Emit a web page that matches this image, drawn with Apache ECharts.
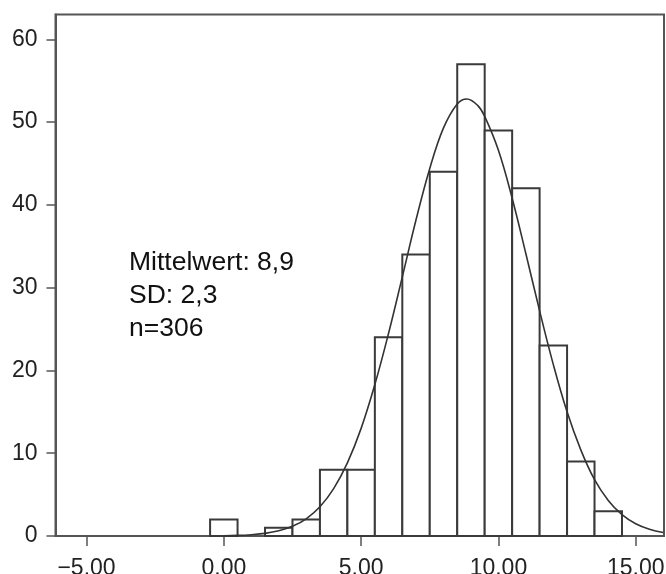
<!DOCTYPE html>
<html>
<head>
<meta charset="utf-8">
<script src="https://cdn.jsdelivr.net/npm/echarts@6/dist/echarts.min.js"></script>
<style>html,body{margin:0;padding:0;background:#fff}#c{width:666px;height:574px}</style>
</head>
<body>
<div id="c"></div>
<script>
// Histogram bins (lower edge, upper edge) and counts
const binStart = [-0.5, 0.5, 1.5, 2.5, 3.5, 4.5, 5.5, 6.5, 7.5, 8.5, 9.5, 10.5, 11.5, 12.5, 13.5];
const binEnd   = [0.5, 1.5, 2.5, 3.5, 4.5, 5.5, 6.5, 7.5, 8.5, 9.5, 10.5, 11.5, 12.5, 13.5, 14.5];
const counts   = [2, 0, 1, 2, 8, 8, 24, 34, 44, 57, 49, 42, 23, 9, 3];

// Fitted normal curve
const curveX = [0, 0.5, 1, 1.5, 2, 2.5, 3, 3.5, 4, 4.5, 5, 5.5, 6, 6.5, 7, 7.5, 8, 8.5, 8.85, 9.25, 9.5, 10, 10.5, 11, 11.5, 12, 12.5, 13, 13.5, 14, 14.5, 15, 15.5, 16];
const curveY = [0.03, 0.07, 0.16, 0.32, 0.63, 1.17, 2.08, 3.53, 5.72, 8.83, 13.0, 18.3, 24.5, 31.3, 38.2, 44.4, 49.3, 52.2, 52.8, 52.0, 50.7, 46.6, 40.8, 34.1, 27.2, 20.7, 15.0, 10.4, 6.8, 4.3, 2.58, 1.48, 0.81, 0.42];

// Axis ticks
const xTicks = [-5, 0, 5, 10, 15];
const yTicks = [0, 10, 20, 30, 40, 50, 60];

// Summary text
const statsLines = ['Mittelwert: 8,9', 'SD: 2,3', 'n=306'];

const ink = '#3a3a3a';
const font = 'Liberation Sans, Arial, Helvetica, sans-serif';

const barData = binStart.map((s, i) => [s, binEnd[i], counts[i]]).filter(d => d[2] > 0);
const lineData = curveX.map((x, i) => [x, curveY[i]]);

const chart = echarts.init(document.getElementById('c'), null, {renderer: 'canvas'});
chart.setOption({
  animation: false,
  backgroundColor: '#fff',
  grid: {left: 55.5, right: 2, top: 14.5, bottom: 38, show: true, borderColor: '#555', borderWidth: 2,
    backgroundColor: 'transparent', containLabel: false, outerBoundsMode: 'none'},
  xAxis: {
    type: 'value', min: -6.13, max: 16.03,
    axisLine: {show: true, onZero: false, lineStyle: {color: '#555', width: 2}},
    axisTick: {show: true, length: 10, customValues: xTicks, lineStyle: {color: '#555', width: 1.5}},
    axisLabel: {customValues: xTicks, color: '#222', fontSize: 23, fontFamily: font, margin: 21,
      formatter: v => Number(v).toFixed(2).replace('-', '\u2212')},
    splitLine: {show: false}
  },
  yAxis: {
    type: 'value', min: 0, max: 63,
    axisLine: {show: true, onZero: false, lineStyle: {color: '#555', width: 2}},
    axisTick: {show: true, length: 9, customValues: yTicks, lineStyle: {color: '#555', width: 1.5}},
    axisLabel: {customValues: yTicks, color: '#222', fontSize: 23, fontFamily: font, margin: 18},
    splitLine: {show: false}
  },
  graphic: statsLines.map((t, i) => ({
    type: 'text', left: 129, top: 249 + i * 33, z: 10,
    style: {text: t, fill: '#111', font: '26.5px ' + font}
  })),
  series: [
    {
      type: 'custom',
      data: barData,
      encode: {x: [0, 1], y: 2},
      renderItem: (params, api) => {
        const p0 = api.coord([api.value(0), api.value(2)]);
        const p1 = api.coord([api.value(1), 0]);
        return {
          type: 'rect',
          shape: {x: p0[0], y: p0[1], width: p1[0] - p0[0], height: p1[1] - p0[1]},
          style: {fill: '#fff', stroke: ink, lineWidth: 2}
        };
      },
      z: 2
    },
    {
      type: 'line',
      data: lineData,
      smooth: 0.4,
      showSymbol: false,
      lineStyle: {color: '#333', width: 1.6},
      z: 5
    }
  ]
});
</script>
</body>
</html>
